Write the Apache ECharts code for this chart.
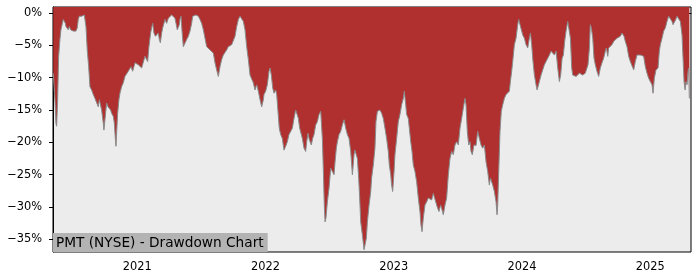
<!DOCTYPE html>
<html><head><meta charset="utf-8">
<script src="https://cdn.jsdelivr.net/npm/echarts@6/dist/echarts.min.js"></script>
<style>html,body{margin:0;padding:0;background:#fff}#c{width:700px;height:280px}</style>
</head><body><div id="c"></div>
<script>
const titleText = 'PMT (NYSE) - Drawdown Chart';
const yearTicks = [2021, 2022, 2023, 2024, 2025];
const pctTicks = [0, -5, -10, -15, -20, -25, -30, -35];
// dates as decimal years
const dates = [
2020.345,2020.358,2020.366,2020.371,2020.379,2020.387,2020.397,2020.405,2020.415,2020.423,2020.431,2020.439,2020.444,2020.454,2020.462,2020.470,2020.480,2020.491,2020.501,2020.514,2020.522,2020.532,2020.540,2020.548,2020.558,2020.566,2020.579,2020.587,2020.595,2020.600,2020.610,2020.621,2020.631,2020.644,2020.657,2020.670,2020.683,2020.696,2020.704,2020.714,2020.722,2020.735,2020.740,2020.748,2020.761,2020.772,2020.782,2020.792,2020.800,2020.813,2020.821,2020.829,2020.834,2020.839,2020.847,2020.857,2020.865,2020.878,2020.891,2020.904,2020.917,2020.930,2020.943,2020.951,2020.964,2020.974,2020.982,2020.995,
2021.008,2021.021,2021.034,2021.047,2021.060,2021.073,2021.081,2021.091,2021.104,2021.112,2021.120,2021.130,2021.141,2021.151,2021.164,2021.172,2021.180,2021.190,2021.198,2021.208,2021.216,2021.229,2021.242,2021.255,2021.268,2021.281,2021.294,2021.302,2021.312,2021.320,2021.328,2021.333,2021.341,2021.349,2021.359,2021.372,2021.385,2021.398,2021.411,2021.424,2021.432,2021.442,2021.458,2021.476,2021.489,2021.502,2021.515,2021.528,2021.541,2021.554,2021.567,2021.580,2021.593,2021.606,2021.619,2021.632,2021.645,2021.658,2021.671,2021.684,2021.697,2021.710,2021.723,2021.736,2021.749,2021.762,2021.775,2021.788,2021.801,2021.814,2021.827,2021.840,2021.853,2021.866,2021.879,2021.892,2021.905,2021.918,2021.931,2021.944,2021.957,2021.970,2021.983,2021.988,
2022.001,2022.014,2022.027,2022.035,2022.045,2022.056,2022.066,2022.079,2022.087,2022.097,2022.107,2022.118,2022.131,2022.144,2022.157,2022.170,2022.183,2022.196,2022.209,2022.222,2022.235,2022.248,2022.256,2022.266,2022.274,2022.287,2022.300,2022.313,2022.321,2022.331,2022.339,2022.347,2022.357,2022.367,2022.378,2022.391,2022.404,2022.417,2022.430,2022.443,2022.451,2022.458,2022.464,2022.471,2022.482,2022.495,2022.508,2022.521,2022.534,2022.542,2022.552,2022.560,2022.573,2022.586,2022.599,2022.612,2022.625,2022.638,2022.651,2022.664,2022.677,2022.690,2022.697,2022.705,2022.716,2022.726,2022.734,2022.742,2022.755,2022.768,2022.775,2022.786,2022.794,2022.807,2022.820,2022.827,2022.840,2022.853,2022.861,2022.872,2022.892,2022.905,2022.918,2022.931,2022.944,2022.957,2022.965,2022.976,2022.983,2022.991,
2023.002,2023.009,2023.022,2023.035,2023.048,2023.061,2023.074,2023.082,2023.093,2023.100,2023.113,2023.121,2023.132,2023.142,2023.152,2023.165,2023.178,2023.191,2023.204,2023.212,2023.220,2023.230,2023.243,2023.256,2023.269,2023.282,2023.295,2023.308,2023.321,2023.334,2023.342,2023.352,2023.365,2023.373,2023.386,2023.399,2023.412,2023.425,2023.438,2023.451,2023.464,2023.477,2023.490,2023.503,2023.516,2023.529,2023.542,2023.555,2023.563,2023.573,2023.584,2023.594,2023.602,2023.612,2023.625,2023.641,2023.654,2023.667,2023.680,2023.693,2023.706,2023.719,2023.732,2023.745,2023.753,2023.763,2023.771,2023.784,2023.797,2023.805,2023.810,2023.818,2023.828,2023.838,2023.849,2023.862,2023.875,2023.888,2023.901,2023.909,2023.919,2023.927,2023.940,2023.953,2023.966,2023.974,2023.984,2023.997,
2024.005,2024.018,2024.031,2024.044,2024.057,2024.065,2024.075,2024.083,2024.096,2024.109,2024.117,2024.124,2024.135,2024.148,2024.161,2024.174,2024.187,2024.200,2024.213,2024.226,2024.239,2024.252,2024.265,2024.278,2024.291,2024.301,2024.312,2024.322,2024.332,2024.343,2024.356,2024.369,2024.377,2024.387,2024.395,2024.408,2024.421,2024.434,2024.447,2024.460,2024.473,2024.493,2024.506,2024.514,2024.525,2024.532,2024.540,2024.551,2024.561,2024.571,2024.584,2024.597,2024.610,2024.623,2024.636,2024.649,2024.657,2024.668,2024.675,2024.688,2024.701,2024.714,2024.727,2024.740,2024.753,2024.766,2024.779,2024.787,2024.795,2024.805,2024.818,2024.831,2024.844,2024.857,2024.870,2024.883,2024.896,2024.909,2024.922,2024.935,2024.948,2024.961,2024.974,2024.987,
2025.000,2025.013,2025.021,2025.031,2025.044,2025.060,2025.070,2025.078,2025.091,2025.104,2025.117,2025.130,2025.143,2025.156,2025.169,2025.177,2025.187,2025.198,2025.208,2025.221,2025.234,2025.247,2025.255,2025.263,2025.271,2025.278,2025.286,2025.294,2025.299,2025.304
];
// drawdown in percent
const drawdown = [
-9.3,-13.4,-17.0,-17.5,-13.4,-6.7,-4.1,-2.6,-2.8,-1.0,-0.8,-1.6,-2.1,-1.8,-2.6,-2.1,-2.6,-2.3,-2.8,-2.6,-2.8,-2.3,-1.0,-0.5,-0.8,-0.5,-0.5,-0.3,0,-2.1,-5.7,-8.3,-11.4,-11.9,-12.6,-13.2,-13.4,-14.5,-13.4,-13.2,-15.0,-17.0,-18.1,-16.5,-13.9,-14.5,-14.5,-15.0,-15.5,-16.0,-17.0,-19.4,-20.6,-18.6,-15.5,-13.4,-12.4,-11.4,-10.8,-9.8,-9.8,-9.0,-9.0,-8.3,-9.0,-8.3,-7.7,-7.5,
-8.0,-8.3,-8.5,-8.3,-6.7,-6.5,-7.5,-5.2,-3.1,-2.3,-1.6,-3.1,-3.6,-3.9,-3.1,-4.1,-4.6,-3.1,-2.3,-1.6,-1.0,-1.6,-0.8,-0.5,-0.3,-0.5,-0.8,-1.6,-2.6,-2.8,-1.8,-1.0,-0.5,-2.8,-5.2,-4.9,-4.1,-3.6,-2.8,-1.6,-0.5,-0.3,-0.3,-0.5,-1.0,-1.6,-2.6,-2.8,-5.2,-5.4,-5.7,-5.4,-6.2,-7.7,-8.8,-9.8,-8.3,-7.2,-6.5,-6.2,-5.7,-5.2,-5.2,-4.9,-4.6,-3.6,-2.1,-1.0,-0.5,-0.8,-1.3,-2.6,-5.2,-7.2,-9.6,-9.8,-10.8,-11.9,-11.1,-12.1,-13.4,-14.5,-13.4,-12.6,
-12.1,-11.1,-9.0,-8.5,-9.6,-11.6,-12.4,-11.9,-12.6,-15.2,-17.8,-18.8,-19.4,-21.2,-20.6,-19.9,-18.8,-18.3,-17.8,-16.3,-15.0,-15.0,-16.3,-17.8,-18.1,-19.4,-20.9,-21.4,-19.9,-18.6,-19.4,-19.9,-20.4,-19.4,-18.8,-17.3,-16.8,-15.7,-15.2,-19.4,-24.5,-29.7,-32.3,-31.7,-29.2,-27.1,-24.0,-24.0,-25.0,-23.0,-20.9,-19.9,-18.8,-18.3,-17.3,-16.5,-17.8,-18.8,-19.4,-21.4,-25.0,-21.9,-21.2,-21.2,-22.5,-25.5,-28.6,-32.3,-34.3,-36.6,-35.9,-34.8,-32.3,-29.7,-27.6,-25.5,-23.5,-20.9,-16.8,-15.2,-15.0,-15.5,-16.3,-17.8,-19.4,-21.4,-23.5,-25.0,-26.6,-27.6,
-24.5,-21.9,-19.4,-16.8,-15.7,-14.2,-13.2,-12.1,-14.2,-15.7,-16.3,-17.8,-19.9,-21.4,-23.5,-24.5,-26.1,-28.6,-30.7,-32.8,-33.8,-31.7,-29.7,-29.2,-28.6,-28.6,-28.9,-27.9,-28.1,-29.7,-30.2,-30.7,-29.7,-30.2,-31.2,-29.7,-28.6,-25.0,-22.5,-21.4,-21.9,-20.4,-19.9,-20.4,-17.8,-16.3,-14.7,-13.2,-14.2,-18.3,-20.4,-19.9,-21.4,-21.9,-20.4,-20.5,-18.3,-19.4,-20.4,-20.9,-20.4,-23.0,-24.5,-26.6,-25.5,-25.5,-26.6,-27.6,-29.2,-31.2,-29.7,-24.5,-18.3,-15.2,-14.2,-13.2,-12.6,-12.4,-12.1,-10.6,-9.0,-7.5,-4.9,-3.9,-1.8,-1.0,-1.8,-2.8,
-3.4,-3.9,-4.9,-5.4,-3.9,-3.1,-4.9,-7.0,-9.6,-11.1,-11.9,-11.4,-10.6,-9.6,-8.8,-8.0,-7.5,-7.0,-6.5,-5.9,-5.9,-6.5,-5.9,-8.5,-10.6,-9.6,-7.0,-6.5,-4.4,-2.8,-1.3,-1.0,-3.9,-8.5,-9.6,-9.3,-9.8,-9.6,-9.3,-9.3,-9.6,-9.3,-9.6,-8.0,-5.4,-1.8,-2.3,-3.9,-7.0,-8.0,-9.0,-9.8,-8.5,-7.7,-7.0,-5.9,-5.4,-6.7,-5.4,-5.2,-4.9,-4.4,-4.4,-3.9,-3.9,-3.6,-3.1,-2.8,-3.6,-4.4,-5.2,-6.7,-7.5,-7.5,-8.8,-7.5,-6.5,-6.7,-6.5,-6.5,-6.7,-8.3,-9.3,-10.1,
-10.6,-11.1,-12.4,-10.1,-8.8,-8.5,-5.9,-4.9,-3.9,-2.8,-2.3,-1.3,-0.5,-0.8,-1.3,-1.8,-1.8,-1.0,-0.5,-0.8,-1.3,-3.4,-7.0,-10.6,-11.9,-10.6,-11.1,-9.0,-8.5,-13.2
];

const seriesData = dates.map((d, i) => [d, drawdown[i]]);
const font = 'DejaVu Sans';
const chart = echarts.init(document.getElementById('c'), null, {renderer: 'canvas'});
chart.setOption({
  animation: false,
  backgroundColor: '#ffffff',
  title: {
    text: titleText,
    left: 53, bottom: 28,
    padding: [3, 4, 2, 3],
    backgroundColor: '#b3b3b3',
    textStyle: {fontFamily: font, fontSize: 13.7, fontWeight: 'normal', color: '#000'}
  },
  grid: {
    left: 53, right: 9, top: 7, bottom: 28,
    show: true, backgroundColor: '#ececec', borderColor: '#000', borderWidth: 1
  },
  xAxis: {
    type: 'value', min: 2020.343, max: 2025.317,
    splitLine: {show: false},
    axisLine: {show: true, lineStyle: {color: '#000', width: 1}},
    axisTick: {show: true, length: 4, lineStyle: {color: '#000'}, customValues: yearTicks},
    axisLabel: {customValues: yearTicks, formatter: v => String(Math.round(v)), fontFamily: font, fontSize: 11.4, color: '#000', margin: 10}
  },
  yAxis: {
    type: 'value', min: -36.95, max: 0.93,
    splitLine: {show: false},
    axisLine: {show: true, lineStyle: {color: '#000', width: 1}},
    axisTick: {show: true, length: 4, lineStyle: {color: '#000'}, customValues: pctTicks},
    axisLabel: {customValues: pctTicks, formatter: v => (v < 0 ? '\u2212' : '') + Math.abs(Math.round(v)) + '%', fontFamily: font, fontSize: 11.4, color: '#000', margin: 11}
  },
  series: [{
    type: 'line',
    data: seriesData,
    showSymbol: false,
    symbol: 'none',
    lineStyle: {color: '#8a8a8a', width: 1},
    areaStyle: {origin: 'end', color: '#b03030', opacity: 1}
  }]
});
</script>
</body></html>
